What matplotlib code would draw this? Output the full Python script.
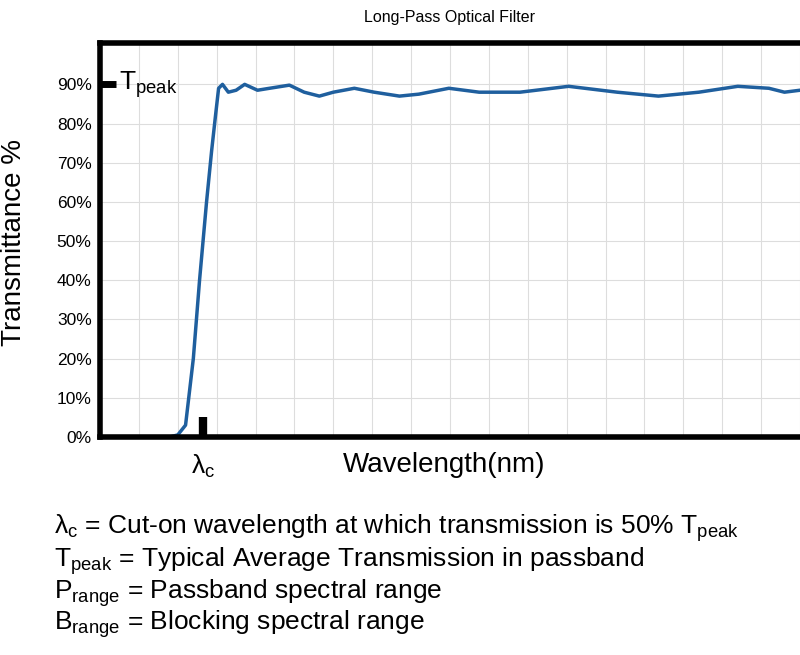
import matplotlib
matplotlib.use("Agg")
import matplotlib.pyplot as plt
import numpy as np

plt.rcParams["mathtext.fontset"] = "custom"
plt.rcParams["mathtext.rm"] = "Liberation Sans"
plt.rcParams["mathtext.it"] = "Liberation Sans"

# wavelength in grid units, transmittance in %
wl = [0, 1.8, 2.0, 2.2, 2.4, 2.56, 2.74, 2.87, 2.97, 3.05, 3.15, 3.3, 3.5, 3.72, 4.05, 4.36, 4.87, 5.25,
      5.64, 6.0, 6.54, 7.05, 7.7, 8.2, 8.97, 9.75, 10.8, 12.05, 13.3, 14.36, 15.4, 16.4, 17.2, 17.6, 18.0]
trans = [0, 0, 0.5, 3, 20, 40, 60, 73, 82, 89, 90, 88, 88.5, 90, 88.5, 89, 89.8, 88,
         87, 88, 89, 88, 87, 87.5, 89, 88, 88, 89.5, 88, 87, 88, 89.5, 89, 88, 88.5]
yticks = [0, 10, 20, 30, 40, 50, 60, 70, 80, 90]
t_peak = 90
lambda_c = 2.64

fig = plt.figure(figsize=(8, 6.55), dpi=100)
ax = fig.add_axes([0.125, 0.333, 0.875, 0.601])
ax.plot(wl, trans, color="#1f5f9e", linewidth=2.5, solid_capstyle="round", solid_joinstyle="round")
ax.set_xlim(0, 18)
ax.set_ylim(0, 100.5)
ax.set_xticks(np.arange(0, 19, 1))
ax.set_yticks(yticks)
ax.set_yticklabels([f"{v}%" for v in yticks], fontsize=12.5, family="Liberation Sans")
ax.set_xticklabels([])
ax.tick_params(length=0, pad=6)
ax.grid(True, color="#dddddd", linewidth=0.8)
for s in ["left", "top", "bottom"]:
    ax.spines[s].set_linewidth(4)
ax.spines["right"].set_visible(False)

# markers
ax.plot([0, 0.4], [t_peak, t_peak], color="black", linewidth=5, solid_capstyle="butt", clip_on=False)
ax.plot([lambda_c, lambda_c], [0, 5], color="black", linewidth=6, solid_capstyle="butt")
ax.text(0.5, t_peak, "T$_{\\mathrm{peak}}$", fontsize=19, va="center", family="Liberation Sans")
ax.text(lambda_c, -4, "λ$_{\\mathrm{c}}$", fontsize=19, ha="center", va="top", family="Liberation Sans")

fig.text(0.562, 0.985, "Long-Pass Optical Filter", ha="center", va="top", fontsize=11.5, family="Liberation Sans")
fig.text(0.018, 0.63, "Transmittance %", rotation=90, ha="center", va="center", fontsize=20, family="Liberation Sans")
fig.text(0.555, 0.29, "Wavelength(nm)", ha="center", va="center", fontsize=20, family="Liberation Sans")

lines = [
    ("λ", "c", " = Cut-on wavelength at which transmission is 50% T", "peak"),
    ("T", "peak", " = Typical Average Transmission in passband", ""),
    ("P", "range", " = Passband spectral range", ""),
    ("B", "range", " = Blocking spectral range", ""),
]
ys = [0.193, 0.143, 0.095, 0.047]
for (a, sub, rest, sub2), y in zip(lines, ys):
    s = f"{a}$_{{\\mathrm{{{sub}}}}}${rest}"
    if sub2:
        s += f"$_{{\\mathrm{{{sub2}}}}}$"
    fig.text(0.068, y, s, fontsize=19, va="center", family="Liberation Sans")

fig.savefig("out.png", dpi=100)
